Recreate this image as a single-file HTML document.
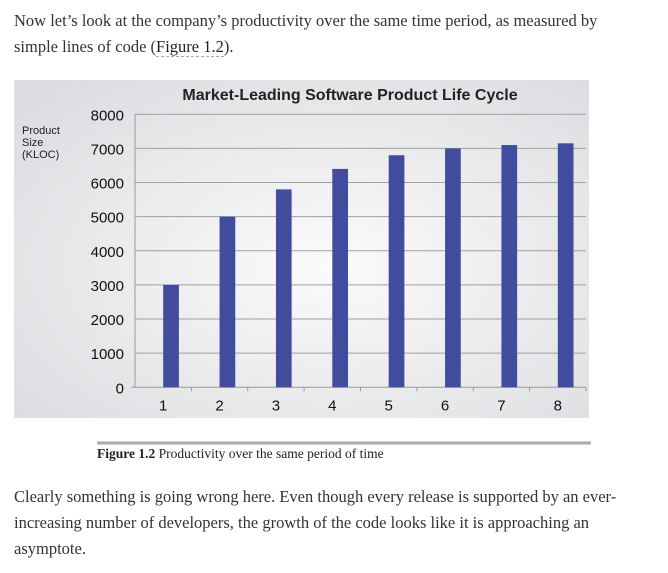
<!DOCTYPE html>
<html><head><meta charset="utf-8"><style>
body{margin:0;width:668px;height:573px;background:#fff;font-family:"Liberation Serif",serif;color:#333;position:relative;overflow:hidden}
.p{position:absolute;left:14px;font-size:16.5px;line-height:26px;margin:0;width:640px}
</style></head><body>
<p class="p" style="top:8px;width:625px">Now let’s look at the company’s productivity over the same time period, as measured by simple lines of code (<span style="border-bottom:1px dashed #aaa;color:#222">Figure 1.2</span>).</p>
<svg width="668" height="573" style="position:absolute;left:0;top:0" id="svg">
<defs><radialGradient id="bg" cx="0.55" cy="0.55" r="0.7"><stop offset="0" stop-color="#fbfbfc"/><stop offset="1" stop-color="#dcdde0"/></radialGradient></defs>
<rect x="14" y="80" width="575" height="338" fill="url(#bg)"/>
<text x="350" y="100" text-anchor="middle" font-family="Liberation Sans" font-weight="bold" font-size="16" fill="#222">Market-Leading Software Product Life Cycle</text>
<text font-family="Liberation Sans" font-size="11" fill="#222"><tspan x="22" y="134">Product</tspan><tspan x="22" y="146">Size</tspan><tspan x="22" y="158">(KLOC)</tspan></text>
<g id="g"></g>
<line x1="97" y1="443" x2="591" y2="443" stroke="#a9a9a9" stroke-width="3"/>
</svg>
<div style="position:absolute;left:97px;top:446px;font-size:13.5px;color:#222"><b>Figure 1.2</b> Productivity over the same period of time</div>
<p class="p" style="top:484px">Clearly something is going wrong here. Even though every release is supported by an ever-increasing number of developers, the growth of the code looks like it is approaching an asymptote.</p>
<script>
const categories=["1","2","3","4","5","6","7","8"];
const values=[3000,5000,5800,6400,6800,7000,7100,7150];
const yTicks=[0,1000,2000,3000,4000,5000,6000,7000,8000];
const NS="http://www.w3.org/2000/svg",g=document.getElementById('g');
const x0=135,x1=586,y0=387.3,yTop=114.3,yMax=8000;
const y=v=>y0-(y0-yTop)*v/yMax;
const cw=(x1-x0)/categories.length;
function mk(t,a){const e=document.createElementNS(NS,t);for(const k in a)e.setAttribute(k,a[k]);g.appendChild(e);return e;}
yTicks.forEach(v=>{
 if(v>0){const l=mk('line',{x1:x0,x2:x1,y1:y(v),y2:y(v),stroke:'#a0a0a0','stroke-width':1});
 
 }
 const t=mk('text',{x:124,y:y(v)+6,'text-anchor':'end','font-family':'Liberation Sans','font-size':15,fill:'#111'});
 t.textContent=v;
 
 
});
const ax=mk('line',{x1:x0,x2:x0,y1:yTop,y2:y0,stroke:'#999'});


const bx=mk('line',{x1:x0-4,x2:x1,y1:y0,y2:y0,stroke:'#999'});


categories.forEach((c,i)=>{
 const cx=x0+cw*(i+0.5);
 const r=mk('rect',{x:cx,y:y(values[i]),width:15.7,height:y0-y(values[i]),fill:'#424c9f'});
 
 
 const tk=mk('line',{x1:x0+cw*(i+1),x2:x0+cw*(i+1),y1:y0,y2:y0+4,stroke:'#999'});
 
 
 const t=mk('text',{x:cx,y:y0+23,'text-anchor':'middle','font-family':'Liberation Sans','font-size':15,fill:'#111'});
 t.textContent=c;
 
 
});
</script>
</body></html>
